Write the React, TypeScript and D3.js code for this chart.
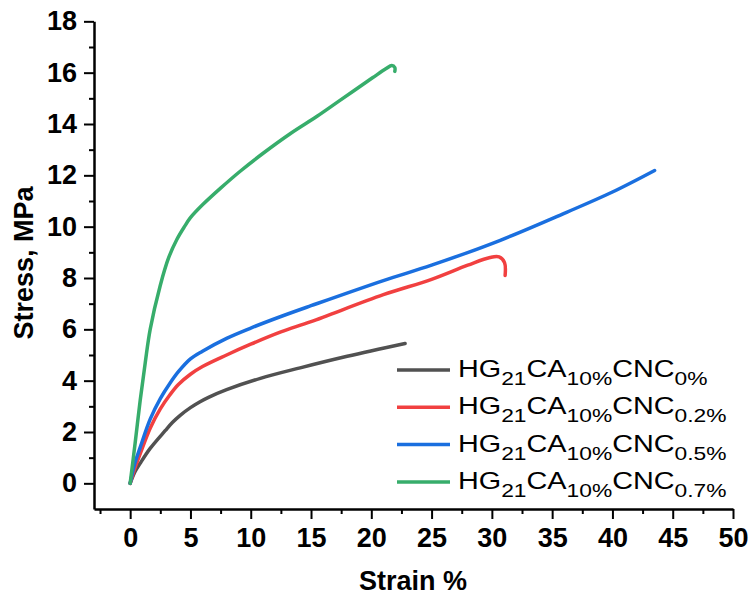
import React, { useEffect, useRef } from "react";
import * as d3 from "d3";

// Stress-strain curves
const strain0 = [0, 0.4, 0.83, 1.66, 2.9, 3.5, 4.15, 5, 5.8, 6.5, 8, 10.8, 14.1, 18, 22.8];
const stress0 = [0, 0.45, 0.78, 1.36, 2.05, 2.37, 2.65, 2.95, 3.18, 3.35, 3.65, 4.09, 4.5, 4.95, 5.45];

const strain02 = [0, 0.4, 0.83, 1.66, 2.5, 3.3, 4, 5, 6, 8, 10, 12.5, 15, 21, 25, 28, 29.85, 30.6, 31.05, 31.1];
const stress02 = [0, 0.6, 1.15, 2.15, 2.9, 3.45, 3.85, 4.25, 4.55, 5.0, 5.42, 5.9, 6.3, 7.35, 7.95, 8.5, 8.8, 8.82, 8.6, 8.1];

const strain05 = [0, 0.4, 0.83, 1.66, 2.5, 3.3, 4, 5, 6, 8, 10, 12.5, 15, 21, 25, 30.7, 36.2, 40, 43.5];
const stress05 = [0, 0.8, 1.4, 2.5, 3.3, 3.9, 4.35, 4.85, 5.15, 5.65, 6.05, 6.5, 6.92, 7.9, 8.5, 9.47, 10.56, 11.35, 12.19];

const strain07 = [0, 0.41, 0.83, 1.25, 1.66, 2.49, 3.2, 3.87, 4.5, 5, 6, 7.5, 9.1, 11, 13.3, 15.5, 17.4, 20.1, 21.2, 21.7, 21.95, 21.95];
const stress07 = [0, 1.56, 3.23, 4.7, 6.0, 7.7, 8.8, 9.5, 10.0, 10.35, 10.85, 11.5, 12.15, 12.85, 13.63, 14.3, 14.92, 15.8, 16.15, 16.28, 16.2, 16.05];

const seriesSubs = ["0%", "0.2%", "0.5%", "0.7%"];
const seriesColors = ["#515151", "#F14040", "#1A6FDF", "#37AD6B"];

const xMajor = d3.range(0, 51, 5);
const xMinor = d3.range(-2.5, 50, 5);
const yMajor = d3.range(0, 19, 2);
const yMinor = d3.range(1, 18, 2);

const FONT = "Arial, 'Liberation Sans', sans-serif";

const Chart = () => {
  const svgRef = useRef(null);

  useEffect(() => {
    const width = 750;
    const height = 597;
    const margin = { top: 21, right: 17, bottom: 88, left: 94 };

    const svg = d3.select(svgRef.current);
    svg.selectAll("*").remove();

    const xScale = d3.scaleLinear().domain([-3, 50]).range([margin.left, width - margin.right]);
    const yScale = d3
      .scaleLinear()
      .domain([-1, 18])
      .range([height - margin.bottom, height - margin.bottom - (19 * (483 - 21)) / 18]);

    const series = [
      { x: strain0, y: stress0 },
      { x: strain02, y: stress02 },
      { x: strain05, y: stress05 },
      { x: strain07, y: stress07 },
    ];

    const line = d3
      .line()
      .x((d) => xScale(d[0]))
      .y((d) => yScale(d[1]))
      .curve(d3.curveCatmullRom.alpha(0.5));

    // curves
    series.forEach((s, i) => {
      svg
        .append("path")
        .attr("d", line(s.x.map((v, k) => [v, s.y[k]])))
        .attr("fill", "none")
        .attr("stroke", seriesColors[i])
        .attr("stroke-width", 3.5)
        .attr("stroke-linejoin", "round")
        .attr("stroke-linecap", "round");
    });

    const styleLabels = (g) =>
      g
        .selectAll("text")
        .attr("font-family", FONT)
        .attr("font-size", 27)
        .attr("font-weight", "bold")
        .attr("fill", "#000");

    // x axis
    const xAt = yScale(-1);
    const xAxisG = svg.append("g").attr("transform", `translate(0, ${xAt})`);
    xAxisG
      .call(d3.axisBottom(xScale).tickValues(xMajor).tickSize(10).tickSizeOuter(0).tickPadding(9).tickFormat(d3.format("d")))
      .call((g) => g.select(".domain").attr("stroke-width", 2.5));
    styleLabels(xAxisG);
    xAxisG.selectAll(".tick line").attr("stroke-width", 2);
    svg
      .append("g")
      .attr("transform", `translate(0, ${xAt})`)
      .call(d3.axisBottom(xScale).tickValues(xMinor).tickSize(5).tickFormat(() => ""))
      .call((g) => g.select(".domain").remove())
      .call((g) => g.selectAll(".tick line").attr("stroke-width", 2));

    // y axis
    const yAt = xScale(-3);
    const yAxisG = svg.append("g").attr("transform", `translate(${yAt}, 0)`);
    yAxisG
      .call(d3.axisLeft(yScale).tickValues(yMajor).tickSize(10).tickSizeOuter(0).tickPadding(7).tickFormat(d3.format("d")))
      .call((g) => g.select(".domain").attr("stroke-width", 2.5));
    styleLabels(yAxisG);
    yAxisG.selectAll(".tick line").attr("stroke-width", 2);
    svg
      .append("g")
      .attr("transform", `translate(${yAt}, 0)`)
      .call(d3.axisLeft(yScale).tickValues(yMinor).tickSize(5).tickFormat(() => ""))
      .call((g) => g.select(".domain").remove())
      .call((g) => g.selectAll(".tick line").attr("stroke-width", 2));

    // axis titles
    svg
      .append("text")
      .attr("x", 413)
      .attr("y", 590)
      .attr("text-anchor", "middle")
      .attr("font-family", FONT)
      .attr("font-size", 27)
      .attr("font-weight", "bold")
      .text("Strain %");

    svg
      .append("text")
      .attr("transform", "translate(33, 263) rotate(-90)")
      .attr("text-anchor", "middle")
      .attr("font-family", FONT)
      .attr("font-size", 27)
      .attr("font-weight", "bold")
      .text("Stress, MPa");

    // legend
    const legend = svg.append("g").attr("transform", "translate(397, 370)");
    seriesSubs.forEach((sub, i) => {
      const row = legend.append("g").attr("transform", `translate(0, ${i * 37.3})`);
      row
        .append("line")
        .attr("x1", 0)
        .attr("x2", 53)
        .attr("y1", 0)
        .attr("y2", 0)
        .attr("stroke", seriesColors[i])
        .attr("stroke-width", 3.5);
      // the original legend text is drawn a bit wide, hence the x-stretch
      const t = row
        .append("text")
        .attr("transform", "translate(61, 0) scale(1.2, 1)")
        .attr("font-family", FONT)
        .attr("fill", "#000");
      const parts = [
        ["HG", false],
        ["21", true],
        ["CA", false],
        ["10%", true],
        ["CNC", false],
        [sub, true],
      ];
      parts.forEach(([txt, isSub]) => {
        t.append("tspan")
          .attr("y", isSub ? 15 : 7)
          .attr("font-size", isSub ? 19 : 24)
          .text(txt);
      });
    });
  }, []);

  return (
    <svg
      ref={svgRef}
      width="750"
      height="597"
      style={{ position: "absolute", left: 0, top: 0, background: "#fff" }}
    ></svg>
  );
};

export default function App() {
  return <Chart />;
}
